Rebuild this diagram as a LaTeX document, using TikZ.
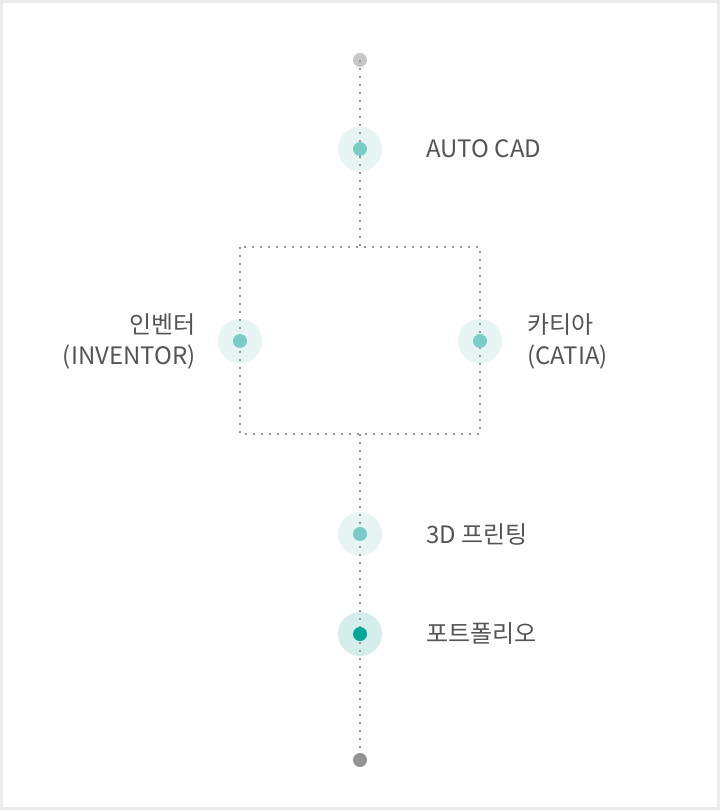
\documentclass[tikz,border=0pt]{standalone}
\usepackage{fontspec}
\setmainfont{Noto Sans CJK KR}
\usetikzlibrary{positioning}
\definecolor{framegray}{HTML}{EBEBEB}
\definecolor{linegray}{HTML}{959595}
\definecolor{textgray}{HTML}{555555}
\definecolor{halolight}{HTML}{E6F5F4}
\definecolor{halodark}{HTML}{D3EEEB}
\definecolor{mint}{HTML}{7ACDC6}
\definecolor{deepteal}{HTML}{00A899}

\begin{document}
\begin{tikzpicture}[
  x=1pt, y=-1pt,
  font=\fontsize{24}{31}\selectfont,
  halo/.style={circle, fill=halolight, minimum size=44pt, inner sep=0pt},
  halostrong/.style={halo, fill=halodark},
  stopdot/.style={circle, fill=mint, minimum size=14pt, inner sep=0pt},
  enddot/.style={circle, minimum size=14pt, inner sep=0pt},
  trail/.style={draw=linegray, line width=2pt, dash pattern=on 2pt off 6pt},
  lbl/.style={text=textgray, inner sep=0pt, align=left},
]
\useasboundingbox (0,0) rectangle (720,810);
\draw[framegray, line width=3pt, fill=white] (1.5,1.5) rectangle (718.5,808.5);

% halos first, so the dotted trail runs over them
\node[halo]       (hcad)  at (360,149) {};
\node[halo]       (hinv)  at (240,341) {};
\node[halo]       (hcat)  at (480,341) {};
\node[halo]       (hprt)  at (360,534) {};
\node[halostrong] (hport) at (360,634) {};

% box corners
\coordinate (nw) at (240,247);
\coordinate (se) at (480,434);
\coordinate (boxtop) at (360,247);
\coordinate (boxbot) at (360,434);

% dotted trail
\node[enddot, fill=black!22] (start) at (360,60) {};
\node[enddot, fill=black!42] (finish) at (360,760) {};
\draw[trail] (start.center) -- (hcad.center) -- (boxtop);
\draw[trail] (nw) rectangle (se);
\draw[trail] (boxbot) -- (hprt.center) -- (hport.center) -- (finish.center);

% stops
\node[stopdot] (cad)  at (hcad.center)  {};
\node[stopdot] (inv)  at (hinv.center)  {};
\node[stopdot] (cat)  at (hcat.center)  {};
\node[stopdot] (prt)  at (hprt.center)  {};
\node[stopdot, fill=deepteal] (port) at (hport.center) {};

% labels
\node[lbl, right=59pt of cad]  (tcad)  {AUTO CAD};
\node[lbl, align=right, left=37pt of inv] (tinv) {인벤터\\(INVENTOR)};
\node[lbl, right=40pt of cat]  (tcat)  {카티아\\(CATIA)};
\node[lbl, right=59pt of prt]  (tprt)  {3D 프린팅};
\node[lbl, right=59pt of port] (tport) {포트폴리오};
\end{tikzpicture}
\end{document}
